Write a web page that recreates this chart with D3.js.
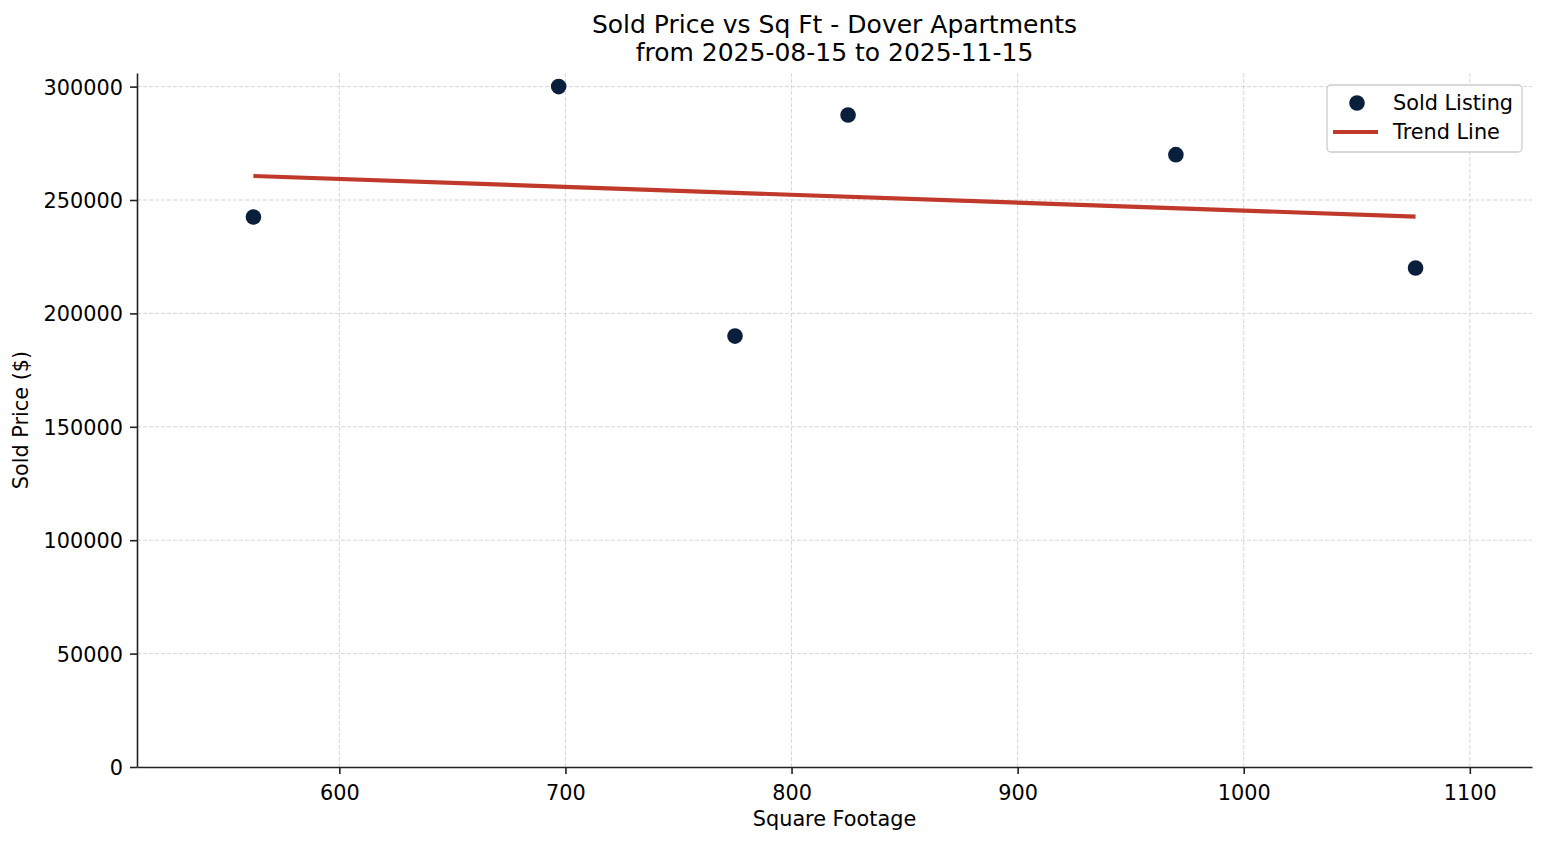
<!DOCTYPE html>
<html>
<head>
<meta charset="utf-8">
<script src="https://cdn.jsdelivr.net/npm/d3@7"></script>
<style>
  body { margin: 0; background: #fff; }
  text { font-family: "DejaVu Sans", sans-serif; fill: #000; }
</style>
</head>
<body>
<div class="chart"></div>
<script>
// data
var sqft = [562, 697, 775, 825, 970, 1076];
var price = [242500, 300000, 190000, 287500, 270000, 220000];
var trendX = [562, 1076];
var trendY = [260600, 242700];
var xTicks = [600, 700, 800, 900, 1000, 1100];
var yTicks = [0, 50000, 100000, 150000, 200000, 250000, 300000];

var svgWidth = 1547;
var svgHeight = 845;
var margin = {top: 73, right: 15, bottom: 78, left: 137};
var width = svgWidth - margin.left - margin.right;
var height = svgHeight - margin.top - margin.bottom;

var svg = d3.select(".chart")
  .append("svg")
  .attr("width", svgWidth)
  .attr("height", svgHeight);

var chartGroup = svg.append("g")
  .attr("transform", `translate(${margin.left},${margin.top})`);

var xScale = d3.scaleLinear().domain([510.5, 1127.5]).range([0, width]);
var yScale = d3.scaleLinear().domain([0, 306000]).range([height, 0]);

// grid
chartGroup.append("g").selectAll("line").data(xTicks).enter().append("line")
  .attr("x1", d => xScale(d)).attr("x2", d => xScale(d))
  .attr("y1", 0).attr("y2", height)
  .attr("stroke", "#d0d0d0").attr("stroke-width", 0.9)
  .attr("stroke-dasharray", "4,2");
chartGroup.append("g").selectAll("line").data(yTicks.slice(1)).enter().append("line")
  .attr("x1", 0).attr("x2", width)
  .attr("y1", d => yScale(d)).attr("y2", d => yScale(d))
  .attr("stroke", "#d0d0d0").attr("stroke-width", 0.9)
  .attr("stroke-dasharray", "4,2");

// axes
var bottomAxis = d3.axisBottom(xScale).tickValues(xTicks).tickFormat(d3.format("d"))
  .tickSize(7).tickPadding(6).tickSizeOuter(0);
var leftAxis = d3.axisLeft(yScale).tickValues(yTicks).tickFormat(d3.format("d"))
  .tickSize(7).tickPadding(7).tickSizeOuter(0);

var xg = chartGroup.append("g")
  .attr("transform", `translate(0, ${height})`)
  .call(bottomAxis);
var yg = chartGroup.append("g").call(leftAxis);

[xg, yg].forEach(function(g) {
  g.select(".domain").attr("stroke", "#222").attr("stroke-width", 1.6);
  g.selectAll(".tick line").attr("stroke", "#222").attr("stroke-width", 1.6);
  g.selectAll(".tick text").style("font-size", "20.8px").attr("fill", "#000");
});
xg.selectAll(".tick text").attr("dy", "0.95em");
yg.selectAll(".tick text").attr("dy", "0.36em");

// trend line
var line = d3.line().x(d => xScale(d[0])).y(d => yScale(d[1]));
chartGroup.append("path")
  .datum(d3.zip(trendX, trendY))
  .attr("d", line)
  .attr("fill", "none")
  .attr("stroke", "#c0392b")
  .attr("stroke-width", 4.2);

// points
chartGroup.selectAll("circle.pt")
  .data(d3.zip(sqft, price))
  .enter()
  .append("circle")
  .attr("class", "pt")
  .attr("cx", d => xScale(d[0]))
  .attr("cy", d => yScale(d[1]))
  .attr("r", 7.8)
  .attr("fill", "#0a1f3c");

// legend
var legend = svg.append("g").attr("transform", "translate(1327,85)");
legend.append("rect")
  .attr("x", 0).attr("y", 0).attr("width", 195).attr("height", 67)
  .attr("rx", 4)
  .attr("fill", "#fff").attr("fill-opacity", 0.85)
  .attr("stroke", "#cccccc").attr("stroke-width", 1.3);
legend.append("circle").attr("cx", 30).attr("cy", 18).attr("r", 7.8).attr("fill", "#0a1f3c");
legend.append("line").attr("x1", 6).attr("x2", 51).attr("y1", 47).attr("y2", 47)
  .attr("stroke", "#c0392b").attr("stroke-width", 4.2);
legend.append("text").attr("x", 66).attr("y", 25).style("font-size", "20.8px").text("Sold Listing");
legend.append("text").attr("x", 66).attr("y", 54).style("font-size", "20.8px").text("Trend Line");

// labels
svg.append("text")
  .attr("x", margin.left + width / 2).attr("y", 33)
  .attr("text-anchor", "middle").style("font-size", "25px")
  .text("Sold Price vs Sq Ft - Dover Apartments");
svg.append("text")
  .attr("x", margin.left + width / 2).attr("y", 61)
  .attr("text-anchor", "middle").style("font-size", "25px")
  .text("from 2025-08-15 to 2025-11-15");

svg.append("text")
  .attr("x", margin.left + width / 2).attr("y", 826)
  .attr("text-anchor", "middle").style("font-size", "20.8px")
  .text("Square Footage");

svg.append("text")
  .attr("transform", `translate(28, ${margin.top + height / 2}) rotate(-90)`)
  .attr("text-anchor", "middle").style("font-size", "20.8px")
  .text("Sold Price ($)");
</script>
</body>
</html>
